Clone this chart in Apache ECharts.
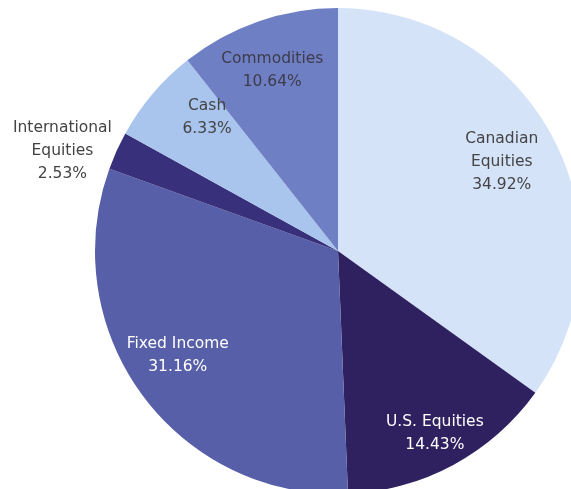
<!DOCTYPE html>
<html>
<head>
<meta charset="utf-8">
<script src="https://cdn.jsdelivr.net/npm/echarts@6/dist/echarts.min.js"></script>
<style>
html,body{margin:0;padding:0;background:#fff;}
#chart{width:571px;height:489px;}
</style>
</head>
<body>
<div id="chart"></div>
<script>
const categories = ['Canadian\nEquities', 'U.S. Equities', 'Fixed Income', 'International\nEquities', 'Cash', 'Commodities'];
const values = [34.92, 14.43, 31.16, 2.53, 6.33, 10.64];
const colors = ['#d4e3f8', '#2f2160', '#565fa8', '#38307a', '#a9c4ed', '#6f7fc4'];
const labelColors = ['#444444', '#ffffff', '#ffffff', '#444444', '#444444', '#3c3c4c'];
// radial position of each label as fraction of the pie radius
const labelRadius = [0.745, 0.845, 0.78, 1.21, 0.775, 0.775];
// small nudges for labels (px)
const labelNudge = [[0, -5], [-2, -1], [-5, -9], [-5, 22], [15, -10], [-3, 0]];

const chart = echarts.init(document.getElementById('chart'));
const fontFamily = '"DejaVu Sans", "Noto Sans", sans-serif';
const R = 243;
const center = [338, 251];

const baseData = categories.map((c, i) => ({ name: c, value: values[i], itemStyle: { color: colors[i] } }));
const labelFmt = p => p.name + '\n' + p.value.toFixed(2) + '%';

const series = [{
  type: 'pie', center: center, radius: [0, R],
  startAngle: 90, clockwise: true,
  data: baseData, label: { show: false }, labelLine: { show: false },
  silent: true
}];

categories.forEach((c, k) => {
  const f = labelRadius[k];
  const half = 0.2;
  series.push({
    type: 'pie', center: center, radius: [R * (f - half), R * (f + half)],
    startAngle: 90, clockwise: true, silent: true, z: 3,
    data: categories.map((cc, i) => ({
      name: cc, value: values[i],
      itemStyle: { color: 'rgba(0,0,0,0)' },
      label: { show: i === k, color: labelColors[i] }
    })),
    label: {
      position: 'inside',
      formatter: labelFmt,
      fontFamily: fontFamily,
      fontSize: 15.5,
      lineHeight: 23,
      align: 'center'
    },
    labelLine: { show: false },
    labelLayout: p => ({ dx: labelNudge[p.dataIndex][0], dy: labelNudge[p.dataIndex][1] })
  });
});

chart.setOption({ animation: false, series: series });
</script>
</body>
</html>
